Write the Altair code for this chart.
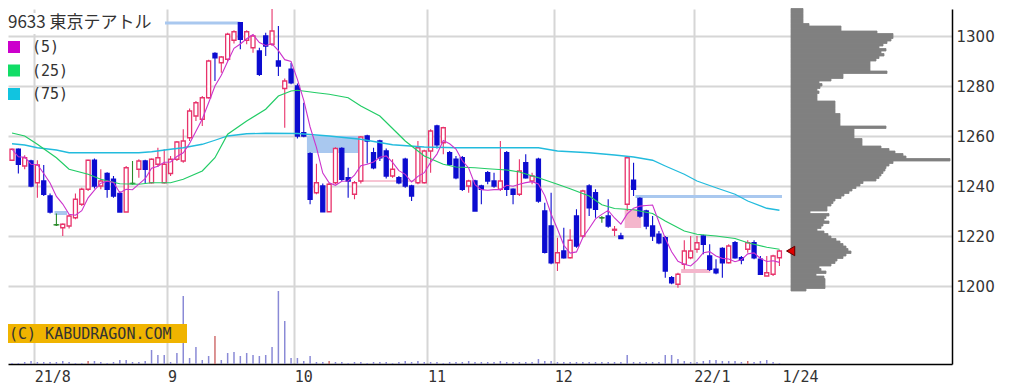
import altair as alt
import pandas as pd

# ---------------- candle data (trading-day index 1..122, 2021/7/27 - 2022/1/24) ----------------
opens = [1250.3, 1254.7, 1248, 1250, 1241.3, 1242, 1236, 1224.5, 1223.3, 1224,
         1227.3, 1232.7, 1238.7, 1250.3, 1240, 1245, 1242.7, 1237, 1229.6, 1241,
         1246.7, 1250, 1241.3, 1248.7, 1241.3, 1245, 1250.7, 1250, 1259.3, 1268,
         1266.7, 1275.3, 1293, 1289.3, 1290.7, 1298.3, 1305.3, 1298.3, 1295.3, 1294,
         1300, 1296.7, 1290, 1279, 1286.7, 1280, 1261.3, 1252.9, 1237.3, 1240,
         1229.7, 1241.3, 1255, 1243.3, 1236.7, 1242, 1260, 1253.3, 1258, 1254,
         1244, 1243.3, 1250.7, 1240, 1241.3, 1241.3, 1254, 1264, 1257.3, 1253.3,
         1250.7, 1251.3, 1240, 1242, 1240, 1245.3, 1242, 1238.7, 1253.3, 1238.7,
         1236.7, 1249.3, 1242, 1250.7, 1230, 1224, 1209.3, 1214, 1211.3, 1228,
         1220, 1240, 1237.3, 1227.3, 1228, 1222.3, 1220, 1232.7, 1242.3, 1235,
         1230, 1224, 1220.7, 1219.3, 1203.3, 1200.7, 1208.7, 1211.3, 1214.7, 1220,
         1212, 1206.7, 1215, 1209.3, 1217.3, 1211.3, 1214.7, 1217.3, 1210.7, 1204,
         1204.7, 1211.3]
highs = [1255, 1255, 1252.3, 1250.5, 1250.3, 1248.4, 1237, 1229, 1225, 1228.7,
         1237, 1239.3, 1250.5, 1251, 1246.7, 1245.5, 1244, 1238, 1248, 1250,
         1250.7, 1250.5, 1251, 1255.3, 1254.7, 1252, 1258, 1262.7, 1271, 1274,
         1276, 1290.5, 1293.5, 1292, 1301.3, 1302.3, 1305.5, 1302.3, 1300.5, 1295.3,
         1301.3, 1311.3, 1304, 1283, 1289.3, 1281, 1273.3, 1253.5, 1248.9, 1241,
         1241.3, 1255.5, 1255.5, 1247.3, 1242, 1260, 1260.5, 1255.3, 1258.5, 1255,
         1250.7, 1244, 1251.3, 1240.5, 1258, 1254.5, 1262.7, 1264.5, 1263.7, 1254,
         1252, 1252, 1242.5, 1242.5, 1240.5, 1246, 1245.3, 1258, 1254, 1239,
         1250.7, 1252.7, 1245.3, 1251.3, 1233.3, 1237.3, 1219.3, 1223.3, 1222.7, 1230.7,
         1238.5, 1240.7, 1238.7, 1228, 1234.7, 1224, 1221.3, 1252, 1249.3, 1235.5,
         1230.5, 1228, 1222, 1220, 1204, 1205.3, 1218.3, 1220, 1220, 1220.5,
         1216.7, 1210.7, 1215.5, 1216.7, 1218, 1212, 1218.3, 1218.3, 1212, 1212,
         1212.5, 1214.5]
lows = [1250, 1245, 1246.7, 1239.5, 1235.3, 1236, 1229, 1224, 1220, 1223,
        1226.7, 1232, 1238, 1239, 1238.7, 1235.3, 1235.3, 1229.6, 1229.6, 1240.5,
        1243.3, 1241, 1241, 1247.6, 1241, 1244, 1250, 1249.3, 1258, 1266,
        1264, 1275, 1282, 1285.3, 1290, 1297, 1294.7, 1296.7, 1293.3, 1284,
        1292, 1296, 1284, 1263.3, 1280.7, 1259, 1259.5, 1232.7, 1236.7, 1229.7,
        1229.7, 1240.7, 1242, 1235.3, 1234.7, 1241, 1249, 1246.7, 1250, 1243,
        1243.3, 1240.7, 1239.3, 1234, 1240.7, 1241, 1245.3, 1255, 1252.7, 1248,
        1242.7, 1238, 1237.3, 1230, 1232.7, 1240.7, 1239.3, 1238, 1236, 1232.7,
        1236, 1243, 1240.7, 1233.3, 1213, 1208.7, 1206, 1211, 1211, 1215.3,
        1219.3, 1228, 1227.3, 1225.3, 1223.3, 1220, 1218.8, 1230, 1236, 1227.3,
        1222.7, 1218, 1216.7, 1203.3, 1200.7, 1199.3, 1206.7, 1210.7, 1213.3, 1212.7,
        1206, 1204.7, 1203.3, 1209, 1211, 1208.7, 1213.3, 1210.7, 1204.7, 1204,
        1204, 1208]
closes = [1254.7, 1248.7, 1251.3, 1240, 1248.4, 1236.7, 1229.6, 1224.5, 1224.7, 1228,
          1234.7, 1238.7, 1250.3, 1240, 1242, 1238.7, 1236, 1229.6, 1247.3, 1241,
          1250, 1246.7, 1250.7, 1251.3, 1248.7, 1250.7, 1257.6, 1258, 1270, 1273.3,
          1275.3, 1290, 1291.3, 1291.6, 1300.7, 1301.7, 1298.7, 1301.7, 1300, 1284.7,
          1296, 1302, 1288, 1282, 1281.3, 1260, 1260, 1234.7, 1241.3, 1229.7,
          1240.7, 1255, 1242.7, 1242, 1241.3, 1259.6, 1258, 1247.3, 1251.3, 1244,
          1246.7, 1241.3, 1240, 1236, 1255.3, 1254, 1262, 1256.5, 1263.3, 1248.7,
          1243.3, 1238.7, 1242, 1230, 1238.7, 1242, 1240, 1242, 1238.7, 1236.7,
          1246, 1243.3, 1244, 1234, 1213.5, 1209.3, 1213.3, 1211.3, 1218.3, 1216,
          1238, 1231.3, 1230.7, 1227.3, 1224, 1222.7, 1219, 1251.3, 1238.7, 1228,
          1224, 1220, 1217.3, 1206, 1201.3, 1204.7, 1214, 1214, 1217.3, 1216.7,
          1206.7, 1205.3, 1209.3, 1216, 1211.3, 1210.4, 1217.3, 1211.3, 1204.7, 1205.3,
          1212, 1214]
volumes = [1, 1, 2, 3, 2, 2, 2, 2, 3, 2,
           1, 1, 3, 3, 2, 1, 2, 4, 4, 2,
           2, 3, 14, 9, 9, 2, 11, 68, 6, 17,
           4, 8, 28, 4, 11, 12, 8, 11, 9, 8,
           9, 17, 73, 43, 6, 6, 3, 8, 2, 2,
           3, 2, 2, 1, 2, 2, 1, 2, 2, 2,
           1, 2, 3, 2, 3, 2, 2, 2, 1, 2,
           2, 2, 3, 2, 2, 2, 2, 3, 2, 2,
           2, 2, 2, 5, 3, 3, 2, 2, 2, 2,
           2, 2, 2, 2, 2, 2, 2, 9, 2, 2,
           2, 2, 2, 9, 9, 5, 3, 2, 2, 3,
           4, 4, 3, 3, 3, 2, 3, 2, 3, 4,
           2, 1]
vol_red = [13, 33, 51, 117]

# moving averages (MA5 is computed from closes)
ma25_idx = [1, 3, 5, 8, 10, 13, 15, 18, 21, 23, 26, 28, 31, 33, 35, 38, 41, 43, 45, 46,
            49, 51, 54, 56, 59, 61, 63, 66, 69, 71, 74, 76, 79, 81, 84, 87, 89, 92, 94, 96,
            99, 102, 104, 107, 109, 112, 115, 117, 120, 122]
ma25_val = [1261.2, 1260, 1256.7, 1251.3, 1246.7, 1244.7, 1242.7, 1240.9, 1240.7, 1241.3,
            1241.3, 1242.7, 1246, 1251.3, 1260.7, 1266, 1270.7, 1276, 1278, 1278.3,
            1277.3, 1276.7, 1275.3, 1272, 1268, 1263, 1258, 1252, 1248.7, 1247.6,
            1247.3, 1246.9, 1246.4, 1245.6, 1243.3, 1240.7, 1238.9, 1236, 1232.5, 1231,
            1230.5, 1229, 1226, 1222, 1220.7, 1220, 1219, 1217.3, 1215.5, 1214.7]
ma75_idx = [1, 3, 5, 8, 10, 15, 21, 23, 26, 28, 31, 33, 35, 38, 41, 46, 51, 56, 61, 66,
            71, 76, 81, 84, 87, 92, 96, 99, 102, 104, 107, 109, 112, 115, 117, 120, 122]
ma75_val = [1256.9, 1256.4, 1255.3, 1254.4, 1253.3, 1253.3, 1253.3, 1253.7, 1254.7, 1255.3,
            1256.7, 1258.3, 1260, 1260.9, 1261.1, 1261, 1260, 1258.7, 1256.5, 1255.6,
            1255.3, 1255.3, 1255.3, 1255.3, 1254, 1253.3, 1252.4, 1251.6, 1250.3, 1248,
            1244.7, 1242, 1239.3, 1236.7, 1234, 1231.1, 1230.3]

# price gaps (windows)
gapdn_x0 = [0.0, 7.7, 47.5, 99.3]
gapdn_x1 = [36.9, 9.7, 55.6, 122.4]
gapdn_lo = [1304.6, 1228.4, 1253.2, 1235.2]
gapdn_hi = [1305.8, 1230.0, 1260.0, 1236.4]
gapup_x0 = [97.6, 106.5]
gapup_x1 = [100.2, 111.1]
gapup_lo = [1223.2, 1205.2]
gapup_hi = [1230.8, 1206.8]
supp_x0 = [55.6]
supp_x1 = [65.9]
supp_y = [1242]

# volume by price profile
profile_levels = list(range(1198, 1311))
profile_widths = [15, 34, 34, 34, 34, 33, 25, 35, 30, 28,
                  40, 44, 46, 52, 55, 60, 57, 55, 52, 49,
                  45, 40, 37, 33, 26, 30, 32, 38, 33, 35,
                  38, 19, 36, 36, 40, 42, 44, 50, 53, 58,
                  61, 65, 69, 72, 85, 88, 90, 92, 94, 95,
                  98, 102, 159, 115, 112, 104, 98, 90, 71, 71,
                  71, 63, 63, 63, 63, 95, 49, 49, 49, 49,
                  49, 44, 44, 44, 44, 44, 26, 26, 26, 28,
                  26, 29, 31, 28, 40, 52, 52, 96, 79, 79,
                  79, 79, 85, 88, 93, 90, 95, 88, 92, 96,
                  100, 102, 102, 86, 50, 50, 18, 12, 12, 12,
                  12, 12, 12]

tick_pos = [4.5, 25.5, 45.5, 66.5, 86.5, 108.5, 122.4]
tick_labels = ["21/8", "9", "10", "11", "12", "22/1", "1/24"]
price_ticks = [1200, 1220, 1240, 1260, 1280, 1300]

# ---------------- frames ----------------
n = len(opens)
idx = list(range(1, n + 1))
df = pd.DataFrame({"i": idx, "open": opens, "high": highs, "low": lows,
                   "close": closes, "vol": volumes})
df["vtype"] = ["red" if k in vol_red else "blue" for k in idx]
df["dir"] = ["up" if c > o else ("down" if c < o else "flat") for o, c in zip(opens, closes)]

ma25 = pd.DataFrame({"i": ma25_idx, "v": ma25_val})
ma75 = pd.DataFrame({"i": ma75_idx, "v": ma75_val})
gdn = pd.DataFrame({"x0": gapdn_x0, "x1": gapdn_x1, "lo": gapdn_lo, "hi": gapdn_hi})
gup = pd.DataFrame({"x0": gapup_x0, "x1": gapup_x1, "lo": gapup_lo, "hi": gapup_hi})
sup = pd.DataFrame({"x0": supp_x0, "x1": supp_x1, "y": supp_y})
prof = pd.DataFrame({"level": profile_levels, "w": profile_widths})

X_DOM = [1.156, 148.42]
Y_DOM = [1168.8, 1310.8]
xs = alt.Scale(domain=X_DOM, nice=False, zero=False)
ys = alt.Scale(domain=Y_DOM, nice=False, zero=False)

expr = "''"
for p, l in reversed(list(zip(tick_pos, tick_labels))):
    expr = f"abs(datum.value - {p}) < 0.01 ? '{l}' : " + expr

GRID = "#d6d6d6"
xaxis = alt.Axis(values=tick_pos, labelExpr=expr, grid=True, gridColor=GRID, gridWidth=2,
                 gridOpacity={"condition": {"test": "datum.value > 120", "value": 0}, "value": 1},
                 ticks=False, domainColor="#000000", domainWidth=1.5, labelAlign="left",
                 labelOffset=0, labelPadding=5, labelFont="DejaVu Sans Mono", labelFontSize=15,
                 labelColor="#333333", title=None, labelOverlap=False, labelBound=False,
                 labelFlush=False, labelBaseline="top")
yaxis = alt.Axis(orient="right", values=price_ticks, grid=True, gridColor=GRID, gridWidth=2,
                 ticks=False, domainColor="#000000", domainWidth=1.5, labelPadding=4,
                 labelFont="DejaVu Sans", labelFontSize=15, labelColor="#333333", title=None,
                 format="d")

RED = "#e8336b"
BLUE = "#0c0cd0"
GREEN = "#2a8a2a"
dir_dom = ["up", "down", "flat"]
stroke_sc = alt.Scale(domain=dir_dom, range=[RED, BLUE, GREEN])
fill_sc = alt.Scale(domain=dir_dom, range=["#ffffff", BLUE, GREEN])

gaps_dn = alt.Chart(gdn).mark_rect(color="#a9c8ef", clip=True).encode(
    x=alt.X("x0:Q", scale=xs, axis=xaxis), x2="x1:Q",
    y=alt.Y("lo:Q", scale=ys, axis=yaxis), y2="hi:Q")
gaps_up = alt.Chart(gup).mark_rect(color="#f4b6cc", clip=True).encode(
    x=alt.X("x0:Q", scale=xs), x2="x1:Q", y=alt.Y("lo:Q", scale=ys), y2="hi:Q")
support = alt.Chart(sup).mark_rule(color="#f08aa8", strokeWidth=1, clip=True).encode(
    x=alt.X("x0:Q", scale=xs), x2="x1:Q", y=alt.Y("y:Q", scale=ys))

base = alt.Chart(df)
wicks = base.mark_rule(strokeWidth=1.1, clip=True).encode(
    x=alt.X("i:Q", scale=xs), y=alt.Y("low:Q", scale=ys), y2="high:Q",
    stroke=alt.Stroke("dir:N", scale=stroke_sc, legend=None))
bodies = base.mark_bar(size=4, strokeWidth=1.3, clip=True).encode(
    x=alt.X("i:Q", scale=xs), y=alt.Y("open:Q", scale=ys), y2="close:Q",
    fill=alt.Fill("dir:N", scale=fill_sc, legend=None),
    stroke=alt.Stroke("dir:N", scale=stroke_sc, legend=None))
flats = base.transform_filter("datum.dir == 'flat'").mark_tick(
    orient="horizontal", size=6, thickness=1.5, color=GREEN, clip=True).encode(
    x=alt.X("i:Q", scale=xs), y=alt.Y("close:Q", scale=ys))

l75 = alt.Chart(ma75).mark_line(color="#22bbdd", strokeWidth=1.3, clip=True).encode(
    x=alt.X("i:Q", scale=xs), y=alt.Y("v:Q", scale=ys))
l25 = alt.Chart(ma25).mark_line(color="#22cc66", strokeWidth=1.2, clip=True).encode(
    x=alt.X("i:Q", scale=xs), y=alt.Y("v:Q", scale=ys))
l5 = base.transform_window(ma5="mean(close)", frame=[-4, 0], sort=[alt.SortField("i")]).mark_line(
    color="#cc33cc", strokeWidth=1.1, clip=True).encode(
    x=alt.X("i:Q", scale=xs), y=alt.Y("ma5:Q", scale=ys))

price = alt.layer(gaps_dn, gaps_up, support, wicks, bodies, flats, l75, l25, l5)

vscale = alt.Scale(domain=[0, 355], nice=False, zero=True)
vb = base.transform_filter("datum.vtype == 'blue'").mark_bar(size=1.5, color="#8a8ad6").encode(
    x=alt.X("i:Q", scale=xs, axis=None), y=alt.Y("vol:Q", scale=vscale, axis=None))
vr = base.transform_filter("datum.vtype == 'red'").mark_bar(size=1.5, color="#d07070").encode(
    x=alt.X("i:Q", scale=xs, axis=None), y=alt.Y("vol:Q", scale=vscale, axis=None))
volume = alt.layer(vb, vr)

profile = alt.Chart(prof).transform_calculate(top="datum.level + 1", x0="0").mark_rect(
    color="#808080", stroke="#808080", strokeWidth=0.8).encode(
    x=alt.X("x0:Q", scale=alt.Scale(domain=[-783, 161], nice=False, zero=False), axis=None),
    x2="w:Q",
    y=alt.Y("level:Q", scale=ys, axis=None), y2="top:Q")

marker = alt.Chart(df).transform_filter(f"datum.i == {n}").mark_point(
    shape="triangle-left", filled=True, size=90, color="#e00000", stroke="#600000",
    strokeWidth=1, xOffset=8, opacity=1).encode(
    x=alt.X("i:Q", scale=xs, axis=None), y=alt.Y("close:Q", scale=ys, axis=None))

one = pd.DataFrame({"a": [0]})
ann = []
ann.append(alt.Chart(one).mark_rect(color="#ffffff").encode(
    x=alt.value(0), x2=alt.value(157), y=alt.value(4), y2=alt.value(25)))
ann.append(alt.Chart(one).mark_text(text="9633 東京テアトル", align="left", baseline="middle",
                                    font="Noto Sans CJK JP", fontSize=17, color="#333333").encode(
    x=alt.value(0), y=alt.value(14)))
legend_names = ["(5)", "(25)", "(75)"]
legend_colors = ["#cc00cc", "#11dd66", "#11c4e0"]
for k, (nm, col) in enumerate(zip(legend_names, legend_colors)):
    top = 32 + k * 23.5
    ann.append(alt.Chart(one).mark_rect(color=col).encode(
        x=alt.value(0), x2=alt.value(12), y=alt.value(top), y2=alt.value(top + 12)))
    ann.append(alt.Chart(one).mark_text(text=nm, align="left", baseline="middle",
                                        font="DejaVu Sans Mono", fontSize=15, color="#333333").encode(
        x=alt.value(24), y=alt.value(top + 6)))
ann.append(alt.Chart(one).mark_rect(color="#f0b400").encode(
    x=alt.value(0), x2=alt.value(179), y=alt.value(315), y2=alt.value(334)))
ann.append(alt.Chart(one).mark_text(text="(C) KABUDRAGON.COM", align="left", baseline="middle",
                                    font="DejaVu Sans Mono", fontSize=15, color="#333333").encode(
    x=alt.value(1), y=alt.value(325)))

chart = alt.layer(price, volume, profile, marker, *ann).resolve_scale(
    x="independent", y="independent").properties(
    width=944, height=355,
    padding={"left": 0, "top": 0, "right": 5, "bottom": 5},
    background="#ffffff").configure_view(strokeWidth=0)

chart.save("out.html", embed_options={"renderer": "svg", "actions": False})
